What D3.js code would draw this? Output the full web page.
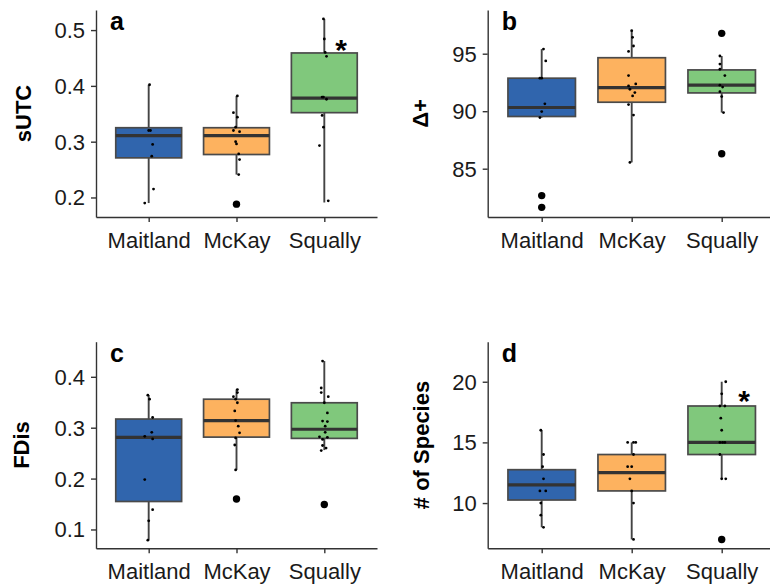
<!DOCTYPE html>
<html>
<head>
<meta charset="utf-8">
<script src="https://cdn.jsdelivr.net/npm/d3@7"></script>
<style>
  body { margin: 0; background: #fff; }
  svg { display: block; font-family: "Liberation Sans", Arial, sans-serif; }
</style>
</head>
<body>
<svg width="770" height="586"></svg>
<script>
const sites = ["Maitland", "McKay", "Squally"];
const siteColors = ["#3065ad", "#fdb25f", "#80c87c"];

// box stats per site: [lower whisker, q1, median, q3, upper whisker]
const sutcBox = [
  [0.19, 0.271, 0.311, 0.325, 0.402],
  [0.241, 0.277, 0.311, 0.325, 0.382],
  [0.191, 0.352, 0.378, 0.459, 0.52]
];
const sutcOut = [[], [0.188], []];
// jittered points: [value, offset in category steps]
const sutcPts = [
  [[0.402, 0.01], [0.32, 0], [0.32, 0.02], [0.295, 0.045], [0.274, 0.035], [0.215, 0.055], [0.19, -0.045]],
  [[0.382, 0.01], [0.352, -0.035], [0.344, 0.01], [0.326, -0.01], [0.32, -0.035], [0.318, 0.035], [0.3, -0.01],
   [0.296, 0], [0.278, 0.025], [0.268, 0.035], [0.241, 0.025], [0.185, 0]],
  [[0.52, -0.01], [0.484, 0], [0.46, 0.01], [0.453, 0.025], [0.38, -0.025], [0.376, 0.025], [0.38, -0.01],
   [0.347, -0.025], [0.326, -0.01], [0.293, -0.055], [0.194, 0.045]]
];

const deltaBox = [
  [89.45, 89.54, 90.32, 92.87, 95.4],
  [85.55, 90.78, 92.05, 94.65, 97.0],
  [89.88, 91.59, 92.26, 93.59, 94.8]
];
const deltaOut = [[82.66, 81.64], [], [96.77, 86.3]];
const deltaPts = [
  [[95.4, 0.02], [94.37, 0.045], [92.87, -0.02], [92.87, 0], [90.64, 0.035], [89.97, 0], [89.45, -0.02],
   [82.66, 0], [81.64, 0.01]],
  [[97.0, 0], [96.42, 0.01], [95.67, 0.02], [95.2, -0.035], [93.1, -0.035], [92.37, 0.045], [92.2, -0.035],
   [91.91, -0.02], [91.62, 0.035], [91.33, 0.01], [90.58, -0.035], [89.66, 0.02], [85.55, -0.02]],
  [[96.77, -0.01], [94.8, -0.02], [94.1, -0.02], [93.65, -0.02], [93.1, 0.035], [92.26, -0.02], [92.1, 0.01],
   [91.7, -0.02], [91.27, 0], [89.88, 0.02], [86.3, 0]]
];

const fdisBox = [
  [0.079, 0.155, 0.281, 0.317, 0.364],
  [0.217, 0.2815, 0.314, 0.356, 0.375],
  [0.256, 0.279, 0.297, 0.349, 0.431]
];
const fdisOut = [[], [0.16], [0.149]];
const fdisPts = [
  [[0.364, -0.01], [0.356, 0.01], [0.32, 0.045], [0.291, 0.035], [0.283, -0.045], [0.278, 0.045],
   [0.198, -0.045], [0.139, 0.045], [0.117, 0], [0.079, -0.01]],
  [[0.375, 0.01], [0.369, 0.01], [0.361, -0.035], [0.356, -0.01], [0.349, 0.01], [0.333, -0.02], [0.314, -0.01],
   [0.303, 0.02], [0.29, 0.035], [0.28, -0.01], [0.266, -0.02], [0.217, -0.01], [0.16, 0.01]],
  [[0.431, -0.02], [0.378, -0.035], [0.369, -0.035], [0.361, 0.045], [0.349, 0], [0.329, 0.035], [0.313, -0.02],
   [0.312, 0.035], [0.303, 0.01], [0.291, 0.01], [0.282, -0.055], [0.281, 0.035], [0.277, -0.02],
   [0.265, -0.02], [0.26, 0.02], [0.255, -0.035], [0.149, 0]]
];

const speciesBox = [
  [8, 10.25, 11.5, 12.75, 16],
  [7, 11, 12.5, 14, 15],
  [12, 14, 15, 18, 20]
];
const speciesOut = [[], [], [7]];
const speciesPts = [
  [[16, -0.01], [14, 0.02], [13, 0.01], [12, 0.02], [11, -0.02], [11, 0.045], [10, -0.01], [9, -0.01], [8, 0.02]],
  [[15, -0.045], [15, 0.02], [15, 0.045], [14, 0.02], [13, -0.045], [13, 0], [12, -0.02], [11, 0], [10, 0.02], [7, 0.02]],
  [[20, 0.045], [19, 0], [18, -0.02], [18, 0.035], [17, -0.01], [16, 0], [15, -0.02], [15, 0.01], [15, 0.035],
   [14, -0.02], [12, 0], [12, 0.045], [7, 0]]
];

// significance stars: [site, offset in steps, value]
const sutcStar = [["Squally", 0.19, 0.479]];
const speciesStar = [["Squally", 0.25, 19.07]];

const panels = [
  { letter: "a", title: "sUTC", box: sutcBox, out: sutcOut, pts: sutcPts, stars: sutcStar,
    domain: [0.165, 0.536], ticks: [0.2, 0.3, 0.4, 0.5], fmt: d3.format(".1f"),
    x0: 96, x1: 377, y0: 10, y1: 217, titleX: 23 },
  { letter: "b", title: "Δ+", box: deltaBox, out: deltaOut, pts: deltaPts, stars: [],
    domain: [80.8, 98.8], ticks: [85, 90, 95], fmt: d3.format("d"),
    x0: 487.7, x1: 775.7, y0: 10, y1: 217, titleX: 420 },
  { letter: "c", title: "FDis", box: fdisBox, out: fdisOut, pts: fdisPts, stars: [],
    domain: [0.063, 0.469], ticks: [0.1, 0.2, 0.3, 0.4], fmt: d3.format(".1f"),
    x0: 96, x1: 377, y0: 341.7, y1: 548.3, titleX: 21 },
  { letter: "d", title: "# of Species", box: speciesBox, out: speciesOut, pts: speciesPts, stars: speciesStar,
    domain: [6.27, 23.3], ticks: [10, 15, 20], fmt: d3.format("d"),
    x0: 487.7, x1: 775.7, y0: 341.7, y1: 548.3, titleX: 421 }
];

const svg = d3.select("svg");
const tickFont = 22;

panels.forEach((p) => {
  const g = svg.append("g");
  const x = d3.scalePoint().domain(sites).range([p.x0, p.x1]).padding(0.6);
  const y = d3.scaleLinear().domain(p.domain).range([p.y1, p.y0]);
  const step = x.step();
  const bw = step * 0.75;

  // boxes
  sites.forEach((s, i) => {
    const [lo, q1, med, q3, hi] = p.box[i];
    const cx = x(s);
    const bg = g.append("g");
    bg.append("line").attr("x1", cx).attr("x2", cx).attr("y1", y(lo)).attr("y2", y(q1))
      .attr("stroke", "#444").attr("stroke-width", 1.9);
    bg.append("line").attr("x1", cx).attr("x2", cx).attr("y1", y(q3)).attr("y2", y(hi))
      .attr("stroke", "#444").attr("stroke-width", 1.9);
    bg.append("rect")
      .attr("x", cx - bw / 2).attr("width", bw)
      .attr("y", y(q3)).attr("height", y(q1) - y(q3))
      .attr("fill", siteColors[i]).attr("stroke", "#4a4a4a").attr("stroke-width", 1.7);
    bg.append("line").attr("x1", cx - bw / 2).attr("x2", cx + bw / 2)
      .attr("y1", y(med)).attr("y2", y(med))
      .attr("stroke", "#333").attr("stroke-width", 3.2);
    bg.selectAll("circle.out").data(p.out[i]).enter().append("circle")
      .attr("class", "out")
      .attr("cx", cx).attr("cy", (d) => y(d)).attr("r", 3.7).attr("fill", "#000");
  });

  // jittered points
  sites.forEach((s, i) => {
    g.selectAll(null).data(p.pts[i]).enter().append("circle")
      .attr("cx", (d) => x(s) + d[1] * step)
      .attr("cy", (d) => y(d[0]))
      .attr("r", 1.4)
      .attr("fill", "#000");
  });

  // axes
  const yAxis = g.append("g").attr("transform", `translate(${p.x0},0)`)
    .call(d3.axisLeft(y).tickValues(p.ticks).tickFormat(p.fmt).tickSize(5).tickSizeOuter(0).tickPadding(6));
  const xAxis = g.append("g").attr("transform", `translate(0,${p.y1})`)
    .call(d3.axisBottom(x).tickSize(5).tickSizeOuter(0).tickPadding(6));
  [yAxis, xAxis].forEach((a) => {
    a.select(".domain").attr("stroke", "#333").attr("stroke-width", 1.4);
    a.selectAll(".tick line").attr("stroke", "#333").attr("stroke-width", 1.4);
    a.selectAll(".tick text").attr("fill", "#1a1a1a")
      .attr("font-size", tickFont).attr("font-family", "Liberation Sans, Arial, sans-serif");
  });
  yAxis.selectAll(".tick text").attr("dy", "0.34em");
  xAxis.selectAll(".tick text").attr("dy", "0.9em");

  // y title
  g.append("text")
    .attr("transform", `translate(${p.titleX},${(p.y0 + p.y1) / 2}) rotate(-90)`)
    .attr("text-anchor", "middle").attr("dy", "0.35em")
    .attr("font-size", 22).attr("font-weight", "bold").attr("fill", "#000")
    .text(p.title);

  // panel letter
  g.append("text")
    .attr("x", p.x0 + 14).attr("y", p.y0 + 20)
    .attr("font-size", 25).attr("font-weight", "bold").attr("fill", "#000")
    .text(p.letter);

  // stars
  g.selectAll("text.star").data(p.stars).enter().append("text")
    .attr("class", "star")
    .attr("x", (d) => x(d[0]) + d[1] * step)
    .attr("y", (d) => y(d[2]))
    .attr("dy", "0.6em")
    .attr("text-anchor", "middle")
    .attr("font-size", 30).attr("font-weight", "bold").attr("fill", "#000")
    .text("*");
});
</script>
</body>
</html>
